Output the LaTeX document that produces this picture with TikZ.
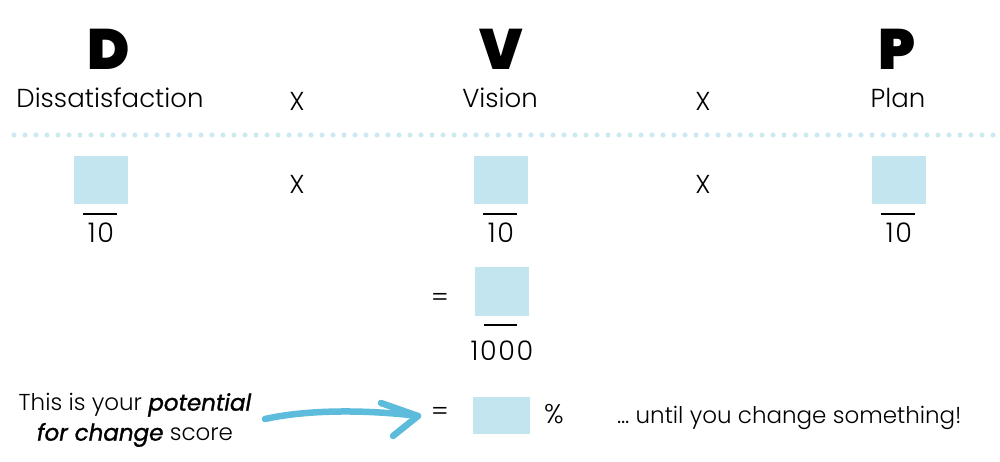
\documentclass[tikz,border=0pt]{standalone}
\usepackage{fontspec}
\setmainfont{Poppins}[UprightFont=*-Light,BoldFont=*-Black,ItalicFont=*-Italic]
\definecolor{boxblue}{HTML}{C3E5EF}
\definecolor{dotblue}{HTML}{CFE9F2}
\definecolor{arrowblue}{HTML}{5DBBDB}
\tikzset{
  ansbox/.style={fill=boxblue,draw=none,inner sep=0pt,minimum width=54pt,minimum height=48pt},
  bigletter/.style={font=\fontsize{57}{57}\selectfont\bfseries,inner sep=0pt,anchor=base},
  lbl/.style={font=\fontsize{26}{30}\selectfont,inner sep=0pt,anchor=base},
  num/.style={font=\fontsize{27}{30}\selectfont\addfontfeature{LetterSpace=6},inner sep=0pt,anchor=base},
  small/.style={font=\fontsize{23}{30}\selectfont,inner sep=0pt},
  op/.style={font=\fontsize{26}{28}\selectfont,inner sep=0pt},
  fracline/.style={line width=1.4pt,black},
}
\begin{document}
\begin{tikzpicture}[x=1pt,y=-1pt]
\useasboundingbox (0,0) rectangle (1000,462);
% header letters
\node[bigletter] (D) at (109,70) {D};
\node[bigletter] (V) at (501,70) {V};
\node[bigletter] (P) at (897,70) {P};
\node[lbl] (dl) at (110,108) {Dissatisfaction};
\node[lbl] (vl) at (500,108) {Vision};
\node[lbl] (pl) at (898,108) {Plan};
\node[op] (x1) at (297,101) {X};
\node[op] (x2) at (703,101) {X};
% dotted separator
\foreach \i in {0,...,89} \fill[dotblue] (14+11*\i,135) circle (2.6);
% row of boxes
\node[ansbox] (bd) at (101,180) {};
\node[ansbox] (bv) at (501,180) {};
\node[ansbox] (bp) at (899,180) {};
\node[op] (x3) at (297,184) {X};
\node[op] (x4) at (703,184) {X};
\draw[fracline] (83,214) -- (117,214);
\draw[fracline] (483,214) -- (517,214);
\draw[fracline] (881,214) -- (915,214);
\node[num] (td) at (101,242) {10};
\node[num] (tv) at (501,242) {10};
\node[num] (tp) at (899,242) {10};
% product
\node[op] (eq1) at (440,300) {=};
\node[ansbox,minimum height=49pt] (bt) at (501.5,291.5) {};
\draw[fracline] (484,325) -- (517,325);
\node[num] (tt) at (502,360) {1000};
% bottom
\node[small,align=center,anchor=center] (cap) at (135,420) {This is your \textit{\addfontfeature{FakeBold=1.2}potential}\\\textit{\addfontfeature{FakeBold=1.2}for change} score};
\node[op] (eq2) at (440,414) {=};
\node[ansbox,minimum width=57pt,minimum height=37pt] (bs) at (501.5,415.5) {};
\node[op,font=\fontsize{27}{30}\selectfont] (pct) at (554,414) {\%};
\node[small,anchor=base west] (until) at (617,423) {\ldots{} until you change something!};
\coordinate (a0) at (265,419);
\coordinate (a1) at (418,416);
\draw[arrowblue,line width=6.5pt,line cap=round,line join=round]
  (a0) .. controls (310,409) and (370,410) .. (a1);
\draw[arrowblue,line width=6.5pt,line cap=round,line join=round]
  (381,403) -- (a1) -- (393,436);
\end{tikzpicture}
\end{document}
